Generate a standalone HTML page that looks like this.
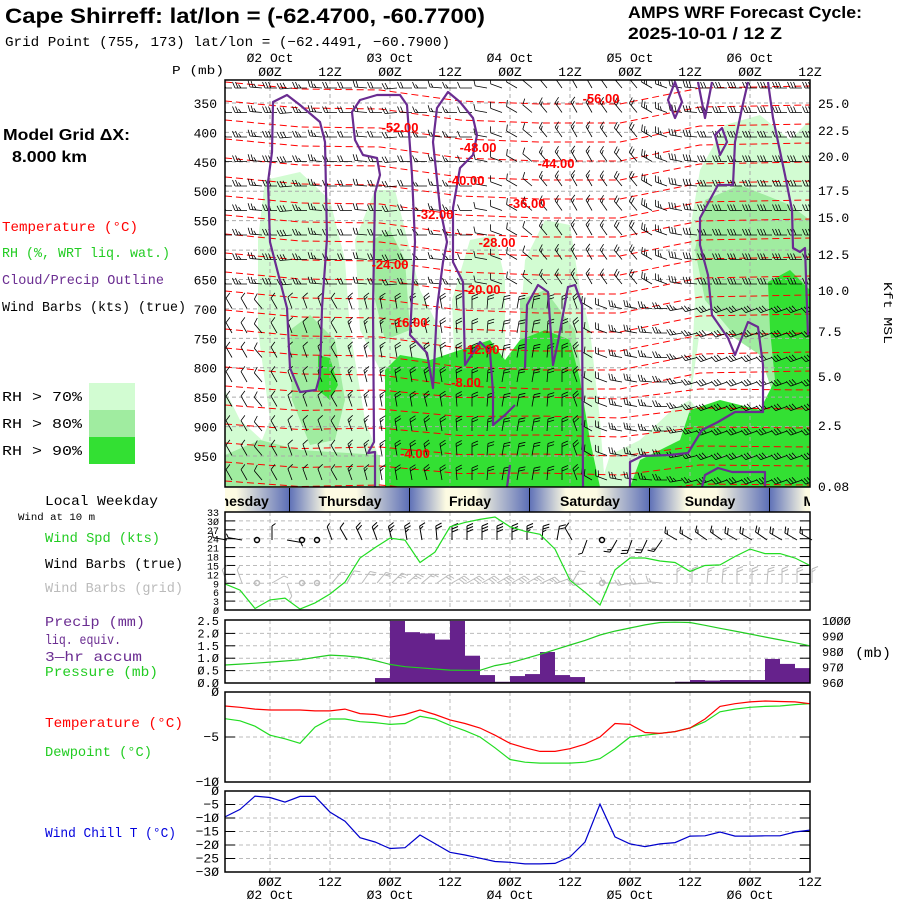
<!DOCTYPE html>
<html><head><meta charset="utf-8"><title>Cape Shirreff meteogram</title>
<style>
html,body{margin:0;padding:0;background:#fff;}
svg{display:block;}
text{font-family:"Liberation Mono",monospace;}
.b{font-family:"Liberation Sans",sans-serif;font-weight:bold;}
</style></head>
<body>
<svg id="chart" width="900" height="900" viewBox="0 0 900 900" xmlns="http://www.w3.org/2000/svg">
<defs>
<clipPath id="xsClip"><rect x="225" y="80" width="585" height="407"/></clipPath>
<clipPath id="dayClip"><rect x="225" y="488" width="585" height="24"/></clipPath>
<linearGradient id="dayGrad" x1="0" x2="1" y1="0" y2="0">
<stop offset="0" stop-color="#6173b8"/><stop offset="0.3" stop-color="#fdfbe2"/><stop offset="0.55" stop-color="#fdfbe2"/><stop offset="1" stop-color="#5a6db6"/>
</linearGradient>
</defs>
<rect x="0" y="0" width="900" height="900" fill="#fff"/>

<text class="b" x="5" y="23" font-size="21" textLength="480" lengthAdjust="spacingAndGlyphs">Cape Shirreff:  lat/lon = (-62.4700, -60.7700)</text>
<text x="5" y="46" font-size="14" textLength="445" lengthAdjust="spacingAndGlyphs">Grid Point (755, 173) lat/lon = (−62.4491, −60.7900)</text>
<text class="b" x="628" y="18" font-size="17" textLength="234" lengthAdjust="spacingAndGlyphs">AMPS WRF Forecast Cycle:</text>
<text class="b" x="628" y="39" font-size="17" textLength="154" lengthAdjust="spacingAndGlyphs">2025-10-01 / 12  Z</text>

<text x="172" y="74" font-size="12" textLength="52" lengthAdjust="spacingAndGlyphs">P (mb)</text>
<text class="b" x="3" y="140" font-size="16" textLength="127" lengthAdjust="spacingAndGlyphs">Model Grid ΔX:</text>
<text class="b" x="12" y="162" font-size="16" textLength="75" lengthAdjust="spacingAndGlyphs">8.000 km</text>
<text x="2" y="231" font-size="14" fill="#ff0000" textLength="136" lengthAdjust="spacingAndGlyphs">Temperature (°C)</text>
<text x="2" y="257" font-size="14" fill="#22cc22" textLength="168" lengthAdjust="spacingAndGlyphs">RH (%, WRT liq. wat.)</text>
<text x="2" y="284" font-size="14" fill="#6a2c91" textLength="162" lengthAdjust="spacingAndGlyphs">Cloud/Precip Outline</text>
<text x="2" y="311" font-size="14" fill="#000" textLength="184" lengthAdjust="spacingAndGlyphs">Wind Barbs (kts) (true)</text>

<text x="2" y="401" font-size="14" textLength="80" lengthAdjust="spacingAndGlyphs">RH &gt; 70%</text>
<rect x="89" y="383" width="46" height="27" fill="#d2fcd2"/>
<text x="2" y="428" font-size="14" textLength="80" lengthAdjust="spacingAndGlyphs">RH &gt; 80%</text>
<rect x="89" y="410" width="46" height="27" fill="#a0eca0"/>
<text x="2" y="455" font-size="14" textLength="80" lengthAdjust="spacingAndGlyphs">RH &gt; 90%</text>
<rect x="89" y="437" width="46" height="27" fill="#33e033"/>

<text x="45" y="505" font-size="14" textLength="113" lengthAdjust="spacingAndGlyphs">Local Weekday</text>
<text x="18" y="520" font-size="10" textLength="77" lengthAdjust="spacingAndGlyphs">Wind at 10 m</text>
<text x="45" y="542" font-size="14" fill="#22cc22" textLength="115" lengthAdjust="spacingAndGlyphs">Wind Spd (kts)</text>
<text x="45" y="568" font-size="14" textLength="138" lengthAdjust="spacingAndGlyphs">Wind Barbs (true)</text>
<text x="45" y="592" font-size="14" fill="#bbbbbb" textLength="138" lengthAdjust="spacingAndGlyphs">Wind Barbs (grid)</text>
<text x="45" y="626" font-size="14" fill="#6a2c91" textLength="100" lengthAdjust="spacingAndGlyphs">Precip (mm)</text>
<text x="45" y="644" font-size="14" fill="#6a2c91" textLength="76" lengthAdjust="spacingAndGlyphs">liq. equiv.</text>
<text x="45" y="661" font-size="14" fill="#6a2c91" textLength="97" lengthAdjust="spacingAndGlyphs">3—hr accum</text>
<text x="45" y="676" font-size="14" fill="#22cc22" textLength="113" lengthAdjust="spacingAndGlyphs">Pressure (mb)</text>
<text x="45" y="727" font-size="14" fill="#ff0000" textLength="138" lengthAdjust="spacingAndGlyphs">Temperature (°C)</text>
<text x="45" y="756" font-size="14" fill="#22cc22" textLength="107" lengthAdjust="spacingAndGlyphs">Dewpoint (°C)</text>
<text x="45" y="837" font-size="14" fill="#0000dd" textLength="131" lengthAdjust="spacingAndGlyphs">Wind Chill T (°C)</text>
<text x="855" y="657" font-size="14" textLength="36" lengthAdjust="spacingAndGlyphs">(mb)</text>
<text x="0" y="0" font-size="12" transform="translate(884,282) rotate(90)" textLength="62" lengthAdjust="spacingAndGlyphs">Kft MSL</text>

<g id="xs" clip-path="url(#xsClip)"></g>
<g id="layers"></g>
</svg>
<script>
// ---------- data ----------
const hourLabels = ["ØØZ","12Z","ØØZ","12Z","ØØZ","12Z","ØØZ","12Z","ØØZ","12Z"];
const dateLabels = ["Ø2 Oct","Ø3 Oct","Ø4 Oct","Ø5 Oct","Ø6 Oct"];
const weekdays = ["Wednesday","Thursday","Friday","Saturday","Sunday","Monday"];
const pressureLevels = [350,400,450,500,550,600,650,700,750,800,850,900,950];
const heightLabels = ["25.0","22.5","20.0","17.5","15.0","12.5","10.0","7.5","5.0","2.5","0.08"];
const heightLabelY = [103,130,156,190,217,254,290,331,376,425,486];
const windSpd = [8.8,6.7,0.5,3.4,4,0.3,2.4,5.4,9.4,17.5,21,24.2,23.5,16,19.5,28,29.5,30.5,31.3,28,26.5,25.5,20.5,10,6,1.7,13.5,17.5,17.5,16.5,16,13,15,15.2,18,20.5,19,19,17.5,15];
const windDir10m = [280,280,270,0,100,90,120,340,330,335,340,345,350,350,355,0,0,0,0,0,0,5,10,330,200,210,210,200,205,215,300,300,305,305,300,300,305,300,300,300];
const precip = [0,0,0,0,0,0,0,0,0,0,0.2,2.5,2.05,2.0,1.75,2.5,1.1,0.32,0.05,0.28,0.36,1.25,0.32,0.24,0,0,0,0,0,0,0.05,0.12,0.1,0.12,0.12,0.12,0.97,0.77,0.6];
const pressure = [971.6,972.2,972.8,973.5,974.2,975,976.5,978,977.5,976.5,974.5,972,970.5,969.8,969,968.3,968.2,968.2,971.2,973,975.7,978.5,981.5,984.5,987.5,991,993.5,995.5,997.5,999,999.2,999,997.2,995.3,993.5,991.6,989.7,987.8,986,984];
const temperature = [-1.55,-1.7,-1.9,-2.0,-2.0,-2.0,-2.1,-2.1,-1.9,-2.4,-2.5,-2.8,-2.5,-2.0,-2.5,-3.1,-3.5,-4.0,-4.8,-5.7,-6.2,-6.6,-6.6,-6.3,-5.8,-5.0,-3.5,-3.6,-4.5,-4.6,-4.4,-4.0,-3.0,-1.6,-1.3,-1.1,-1.0,-1.05,-1.1,-1.3];
const dewpoint = [-2.97,-3.2,-3.8,-4.8,-5.2,-5.7,-3.9,-3.0,-3.0,-3.3,-3.4,-3.6,-3.5,-2.7,-3.0,-3.7,-4.3,-5.0,-6.2,-7.5,-7.8,-7.9,-7.9,-7.9,-7.8,-7.4,-6.3,-5.0,-4.8,-4.6,-4.4,-4.0,-3.3,-2.2,-1.9,-1.7,-1.6,-1.55,-1.4,-1.3];
const windChill = [-9.6,-6.8,-1.9,-2.4,-4.1,-2.0,-2.0,-7.8,-11.2,-17.3,-18.9,-21.3,-21,-16.3,-19.5,-22.7,-23.7,-24.9,-26.1,-26.4,-27,-27,-26.8,-24.4,-18.9,-4.9,-17,-19.6,-20.6,-19.6,-19.1,-16.7,-16.6,-15.2,-16.7,-16.7,-16.6,-16.6,-15.2,-14.5];
const upperDir = [270,270,275,270,265,270,275,270,270,275,270,265,270,270,275,270,270,280,290,300,310,320,325,330,330,325,320,320,300,290,280,275,270,270,270,270,270,270,270,270];
const upperSpd = [25,25,25,30,30,25,25,20,20,20,20,20,20,15,15,15,10,10,10,10,10,15,15,15,15,15,20,20,25,25,30,30,30,30,30,30,30,30,30,30];
const lowerDir = [330,330,320,330,340,340,340,330,340,345,350,350,350,345,350,355,0,5,10,10,10,5,0,340,300,290,280,280,275,270,260,255,250,250,250,250,250,250,250,250];
const lowerSpd = [10,10,10,10,10,10,10,10,15,15,15,20,20,20,20,20,20,20,20,20,20,20,20,20,20,20,25,25,25,25,25,25,30,30,30,30,30,30,30,30];
const isoLabels = ["-56.00","-52.00","-48.00","-44.00","-40.00","-36.00","-32.00","-28.00","-24.00","-20.00","-16.00","-12.00","-8.00","-4.00"];
const isoLabelX = [601,400,478,556,466,527,435,497,390,482,409,481,466,415];
const isoLabelY = [98,127,147,163,180,203,214,242,264,289,322,349,382,453];

// ---------- scales ----------
const X0 = 225, X1 = 810, DX = 15;
const xi = i => X0 + DX * i;
const pY = p => 103 + (p - 350) * 0.5883;
const wsY = v => 610 - v * 2.97;
const prY = v => 683 - v * 24.8;
const psY = v => 683 - (v - 960) * 1.55;
const tY = v => 692 - v * 9;
const wcY = v => 791 - v * 2.7;
const NS = "http://www.w3.org/2000/svg";
const svg = document.getElementById("layers");
const xs = document.getElementById("xs");
function mk(tag, attrs, parent) {
  const e = document.createElementNS(NS, tag);
  for (const k in attrs) e.setAttribute(k, attrs[k]);
  (parent || svg).appendChild(e);
  return e;
}
function txt(str, x, y, size, anchor, fill, parent) {
  const t = mk("text", {x: x, y: y, "font-size": size, "text-anchor": anchor || "start", fill: fill || "#000"}, parent);
  t.textContent = str;
  return t;
}
function linePath(arr, yf) { return arr.map((v, i) => (i ? "L" : "M") + xi(i).toFixed(1) + "," + yf(v).toFixed(1)).join(""); }

// ---------- cross-section (RH fills) ----------
const polys = [
 ["#d2fcd2","rh70-area-left","258,240 265,180 300,172 330,200 345,260 350,330 365,420 380,460 380,487 225,487 225,390 240,420 262,440 270,420 258,330"],
 ["#d2fcd2","rh70-area-mid","355,240 375,190 395,190 405,230 420,290 440,330 445,370 385,380 360,330"],
 ["#d2fcd2","rh70-area-mid2","452,300 470,240 495,235 505,280 505,380 455,380"],
 ["#d2fcd2","rh70-area-mid3","525,260 545,220 570,225 580,290 590,330 600,420 605,487 520,487 520,330"],
 ["#d2fcd2","rh70-area-right","700,170 725,125 760,115 790,140 810,120 810,487 600,487 610,455 640,440 672,410 690,400 695,300 690,230"],
 ["#a0eca0","rh80-area-left","290,330 310,315 335,340 345,400 335,440 310,445 292,400"],
 ["#a0eca0","rh80-area-mid","372,240 390,230 405,260 410,330 385,340 375,300"],
 ["#a0eca0","rh80-area-bottom","225,455 260,440 300,450 380,455 380,487 225,487"],
 ["#a0eca0","rh80-area-mid2","520,300 545,290 575,330 585,400 520,400"],
 ["#a0eca0","rh80-area-right","705,200 740,185 790,205 810,220 810,487 770,487 760,420 730,330 705,300 695,250"],
 ["#ffffff","dry-hole-right","700,330 730,335 760,355 775,400 770,420 740,410 705,420 690,400"],
 ["#33e033","rh90-area-left","318,355 330,358 338,385 330,400 318,390"],
 ["#33e033","rh90-area-mid","385,370 400,355 430,360 460,350 490,340 505,360 520,340 545,330 570,340 580,380 590,440 600,487 385,487"],
 ["#33e033","rh90-area-right","768,282 790,270 810,290 810,487 630,487 640,460 680,440 690,410 720,400 760,410 775,380 770,330"]
];
polys.forEach(p => {
  const e = mk("polygon", {points: p[2], fill: p[0], "stroke-linejoin": "round"}, xs);
  
  
});
// grid
for (let k = 0; k < 9; k++) {
  const g = mk("line", {x1: 270 + 60 * k, x2: 270 + 60 * k, y1: 80, y2: 487, stroke: "#aaa", "stroke-dasharray": "4,3", "stroke-width": 1}, xs);
  
  
}
pressureLevels.forEach(p => {
  const g = mk("line", {x1: 225, x2: 810, y1: pY(p), y2: pY(p), stroke: "#aaa", "stroke-dasharray": "4,3"}, xs);
  
  
});
// isotherms
const isoOff = [0, 3, 8, 15, 22, 18, 6, 0];
const isoX = [225, 300, 380, 460, 540, 620, 700, 810];
for (let k = 0; k < 22; k++) {
  const y0 = 84 + 19 * k;
  const d = isoX.map((x, j) => (j ? "L" : "M") + x + "," + (y0 + isoOff[j] * (k < 16 ? 1 : 0.5) + (j % 2 ? 2 : -2))).join("");
  const e = mk("path", {d: d, fill: "none", stroke: "#ff0000", "stroke-width": 1, "stroke-dasharray": "7,4"}, xs);
  
  
}
// barbs
function barb(x, y, dir, spd, color, L, parent, name, sw) {
  if (spd < 2.5) {
    const c = mk("circle", {cx: x, cy: y, r: 2.5, fill: "none", stroke: color, "stroke-width": 1.5}, parent);
    
    
    return;
  }
  const a = dir * Math.PI / 180;
  const ux = Math.sin(a), uy = -Math.cos(a);
  const ex = x + ux * L, ey = y + uy * L;
  let d = "M" + x.toFixed(1) + "," + y.toFixed(1) + "L" + ex.toFixed(1) + "," + ey.toFixed(1);
  const px = -uy, py = ux;
  let n = Math.round(spd / 5), pos = 0;
  while (n > 0 && pos < 3) {
    const len = n >= 2 ? 6 : 3.5;
    const bx = ex - ux * pos * 3, by = ey - uy * pos * 3;
    d += "M" + bx.toFixed(1) + "," + by.toFixed(1) + "L" + (bx + px * len + ux * 2.5).toFixed(1) + "," + (by + py * len + uy * 2.5).toFixed(1);
    n -= 2; pos++;
  }
  const e = mk("path", {d: d, fill: "none", stroke: color, "stroke-width": sw || 1}, parent);
  
  
}
for (let r = 0; r < 17; r++) {
  const y = 88 + 24.5 * r;
  for (let i = 0; i < 40; i++) {
    const up = y < 300;
    barb(xi(i) + 7, y, up ? upperDir[i] : lowerDir[i], up ? upperSpd[i] : lowerSpd[i], "#000", 12, xs, "xs-wind-barb", 0.8);
  }
}
// cloud outlines
const outlines = [
 "M273,102L287,95L300,105L320,122L325,142L327,238L322,308L320,375L316,390L300,392L290,368L287,308L270,242L268,182L272,152Z",
 "M375,487L375,452L368,453L374,442L373,308L375,193L380,175L377,158L363,155L355,140L352,112L360,100L377,95L400,95L407,105L412,175L415,242L410,335L427,353L433,388L437,308L443,262L447,242L440,208L433,142L437,108L448,92L460,102L473,118L477,135L473,155L460,168L453,208L453,262L463,282L465,365L480,342L490,352L493,392L493,425L505,415L515,405",
 "M525,368L527,305L538,285L548,292L553,365L558,342L568,287L575,285L582,305L583,487",
 "M630,487L630,462L642,456L670,455L688,453L702,430L718,422L735,412L763,412L763,365L758,327L748,322L735,355L728,338L712,315L708,275L700,245L700,218L718,185L733,185L735,142L742,108L748,82",
 "M768,82L773,118L785,175L792,210L793,248L800,252L805,248L808,335",
 "M668,100L675,82L682,102L675,118Z",
 "M698,82L705,118L712,82",
 "M715,135L722,128L727,142L720,155Z",
 "M702,487L705,475L718,468L732,472L765,472L765,487",
 "M507,487L510,465"
];
outlines.forEach(d => {
  const e = mk("path", {d: d, fill: "none", stroke: "#6a2c91", "stroke-width": 2.2, "stroke-linejoin": "round"}, xs);
  
  
});
isoLabels.forEach((s, k) => {
  const t = txt(s, isoLabelX[k], isoLabelY[k] + 5, 13, "middle", "#ff0000", xs);
  t.setAttribute("class", "b");
  
  
});
const xsFrame = mk("rect", {x: 225, y: 80, width: 585, height: 407, fill: "none", stroke: "#000", "stroke-width": 1.5});



// axes of cross-section
hourLabels.forEach((h, k) => {
  const t = txt(h, 270 + 60 * k, 76, 13, "middle");
  
  
  const b = txt(h, 270 + 60 * k, 886, 13, "middle");
  
  
});
dateLabels.forEach((dl, k) => {
  const t = txt(dl, 270 + 120 * k, 62, 13, "middle");
  
  
  const b = txt(dl, 270 + 120 * k, 899, 13, "middle");
  
  
});
pressureLevels.forEach(p => {
  const t = txt(String(p), 217, pY(p) + 5, 13, "end");
  
  
});
heightLabels.forEach((h, k) => {
  const t = txt(h, 818, heightLabelY[k] + 5, 13, "start");
  
  
});

// ---------- weekday bar ----------
const dayG = mk("g", {"clip-path": "url(#dayClip)"});


weekdays.forEach((w, k) => {
  const x = 170 + 120 * k;
  const r = mk("rect", {x: x, y: 488, width: 120, height: 24, fill: "url(#dayGrad)"}, dayG);
  
  
  const s = mk("line", {x1: x + 120, x2: x + 120, y1: 488, y2: 512, stroke: "#000", "stroke-width": 2}, dayG);
  
  
  const t = txt(w, x + 60, 506, 14, "middle", "#000", dayG);
  t.setAttribute("class", "b");
  
  
});

// ---------- panels ----------
function panel(y1, y2, name) {
  for (let k = 0; k < 9; k++) {
    const g = mk("line", {x1: 270 + 60 * k, x2: 270 + 60 * k, y1: y1, y2: y2, stroke: "#bbb", "stroke-dasharray": "4,3"});
    
    
  }
}
function hgrid(y, name) {
  const g = mk("line", {x1: 225, x2: 810, y1: y, y2: y, stroke: "#bbb", "stroke-dasharray": "4,3"});
  
  
  const t1 = mk("line", {x1: 225, x2: 235, y1: y, y2: y, stroke: "#000"});
  
  
  const t2 = mk("line", {x1: 800, x2: 810, y1: y, y2: y, stroke: "#000"});
  
  
}
function frame(y1, y2, name) {
  const r = mk("rect", {x: 225, y: y1, width: 585, height: y2 - y1, fill: "none", stroke: "#000", "stroke-width": 1.5});
  
  
}

// wind panel
panel(512, 610, "wind");
const wsTicks = [33,30,27,24,21,18,15,12,9,6,3,0];
wsTicks.forEach(v => {
  if (v > 0 && v < 33) hgrid(wsY(v), 'wind-gridline');
  const t = txt(String(v).replace(/0/g, "Ø"), 219, wsY(v) + 4, 10, "end");
  
  
});
windSpd.forEach((v, i) => {
  barb(xi(i) + 2, 540, windDir10m[i], v, "#000", 14, svg, "wind-barb-true", 1);
  barb(xi(i) + 2, 583, (windDir10m[i] + 60) % 360, v, "#bbbbbb", 14, svg, "wind-barb-grid", 1);
});
const wsLine = mk("path", {d: linePath(windSpd, wsY), fill: "none", stroke: "#22dd22", "stroke-width": 1.2});


frame(512, 610, "wind-panel-frame");

// precip panel
panel(620, 683, "precip");
const prTicks = [2.5,2.0,1.5,1.0,0.5,0.0];
prTicks.forEach(v => {
  if (v > 0 && v < 2.5) hgrid(prY(v), 'precip-gridline');
  const t = txt(v.toFixed(1).replace(/0/g, "Ø"), 219, prY(v) + 4, 12, "end");
  
  
});
precip.forEach((v, i) => {
  if (v <= 0) return;
  const r = mk("rect", {x: xi(i), y: prY(v), width: DX, height: 683 - prY(v), fill: "#66228c"});
  
  
});
const psTicks = [1000,990,980,970,960];
psTicks.forEach(v => {
  const t = txt(String(v).replace(/0/g, "Ø"), 822, psY(v) + 4, 12, "start");
  
  
});
const psLine = mk("path", {d: linePath(pressure, psY), fill: "none", stroke: "#22cc22", "stroke-width": 1.2});


frame(620, 683, "precip-panel-frame");

// temperature panel
panel(692, 782, "temp");
hgrid(tY(-5), 'temp-gridline');
const tTicks = [0, -5, -10];
tTicks.forEach(v => {
  const t = txt(String(v).replace(/0/g, "Ø").replace("-", "−"), 219, tY(v) + 4, 13, "end");
  
  
});
const dpLine = mk("path", {d: linePath(dewpoint, tY), fill: "none", stroke: "#22dd22", "stroke-width": 1.2});


const tLine = mk("path", {d: linePath(temperature, tY), fill: "none", stroke: "#ff0000", "stroke-width": 1.2});


frame(692, 782, "temp-panel-frame");

// wind chill panel
panel(791, 872, "windchill");
const wcTicks = [0, -5, -10, -15, -20, -25, -30];
wcTicks.forEach(v => {
  if (v < 0 && v > -30) hgrid(wcY(v), 'windchill-gridline');
  const t = txt(String(v).replace(/0/g, "Ø").replace("-", "−"), 219, wcY(v) + 4, 13, "end");
  
  
});
const wcLine = mk("path", {d: linePath(windChill, wcY), fill: "none", stroke: "#0000cc", "stroke-width": 1.2});


frame(791, 872, "windchill-panel-frame");
</script>
</body></html>
